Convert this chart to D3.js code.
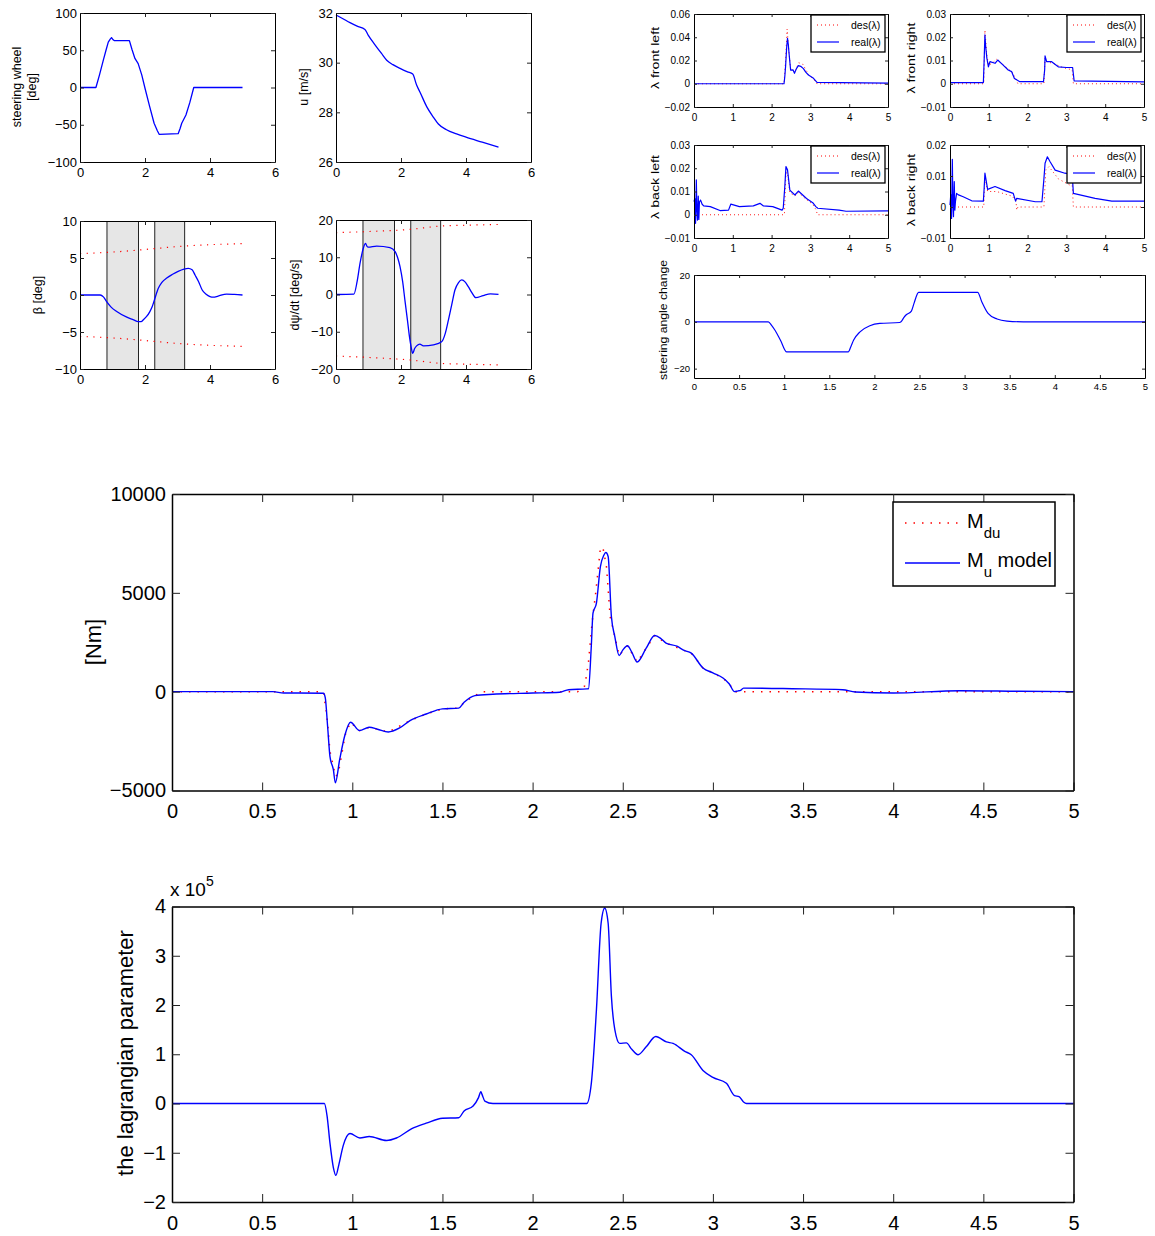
<!DOCTYPE html>
<html>
<head>
<meta charset="utf-8">
<script src="https://cdn.jsdelivr.net/npm/d3@7/dist/d3.min.js"></script>
<style>
  body { margin: 0; background: #fff; }
</style>
</head>
<body>
<div id="chart"></div>
<script>
// ---- data ----

// steering wheel [deg]
const swT = [0, 0.49, 0.6, 0.72, 0.8, 0.87, 0.93, 0.97, 1.02, 1.05, 1.52, 1.6, 1.69, 1.79, 1.9, 2.0, 2.14, 2.28, 2.38, 2.44, 3.02, 3.08, 3.13, 3.26, 3.38, 3.5, 5.0];
const swV = [0, 0, 17, 37, 50, 61, 65, 67, 64, 63, 63, 51, 39, 32, 17, -1, -25, -48, -58, -63, -62, -55, -48, -37, -20, 0, 0];

// u [m/s]
const uT = [0, 0.2, 0.43, 0.65, 0.89, 0.99, 1.2, 1.4, 1.56, 1.75, 1.97, 2.2, 2.36, 2.48, 2.6, 2.79, 3.0, 3.15, 3.4, 3.71, 4.0, 4.5, 5.0];
const uV = [31.92, 31.78, 31.61, 31.47, 31.34, 31.11, 30.72, 30.37, 30.1, 29.92, 29.77, 29.63, 29.54, 29.1, 28.77, 28.23, 27.8, 27.53, 27.3, 27.13, 27.0, 26.8, 26.6];

// beta [deg]
const betaT = [0, 0.62, 0.72, 0.82, 0.95, 1.13, 1.44, 1.65, 1.79, 1.88, 1.95, 2.05, 2.15, 2.22, 2.29, 2.41, 2.52, 2.67, 2.85, 3.02, 3.2, 3.33, 3.45, 3.54, 3.65, 3.76, 3.88, 4.0, 4.1, 4.25, 4.51, 4.75, 5.0];
const betaV = [0, 0, -0.25, -0.9, -1.6, -2.24, -3.0, -3.35, -3.6, -3.6, -3.35, -2.9, -2.24, -1.6, -0.67, 0.9, 1.7, 2.3, 2.8, 3.2, 3.5, 3.6, 3.4, 2.7, 1.8, 0.67, 0.1, -0.22, -0.3, -0.15, 0.13, 0.08, 0];
const betaBoundT = [0, 1, 2, 2.3, 3, 4, 5];
const betaUpper = [5.6, 5.8, 6.15, 6.27, 6.55, 6.8, 6.94];
const betaLower = [-5.6, -5.8, -6.15, -6.27, -6.55, -6.8, -6.94];

// yaw rate [deg/s]
const yawT = [0, 0.55, 0.65, 0.74, 0.84, 0.91, 0.95, 0.99, 1.25, 1.66, 1.82, 1.9, 1.97, 2.05, 2.12, 2.2, 2.26, 2.31, 2.36, 2.42, 2.48, 2.58, 2.69, 3.0, 3.25, 3.36, 3.46, 3.56, 3.66, 3.77, 3.87, 3.97, 4.07, 4.18, 4.3, 4.53, 4.75, 5.0];
const yawV = [0, 0.1, 3.5, 8.4, 12.4, 13.7, 13.0, 12.7, 13.0, 12.6, 11.5, 9.8, 7.5, 3.5, -1.5, -7, -11.3, -14, -15.8, -14.5, -13.8, -13.3, -13.8, -13.5, -12.7, -10.5, -6.8, -2.8, 1.2, 3.2, 3.9, 3.4, 2.1, 0.5, -0.86, -0.3, 0.15, 0.05];
const yawBoundT = [0, 1, 2.3, 3.25, 4, 5];
const yawUpper = [16.6, 16.9, 17.5, 18.4, 18.6, 18.8];
const yawLower = [-16.5, -16.9, -17.6, -18.5, -18.7, -18.9];

// active-control intervals (shaded)
const bandStart = [0.83, 2.3];
const bandEnd = [1.8, 3.22];

// lambda front left
const flT = [0, 2.32, 2.34, 2.36, 2.39, 2.41, 2.43, 2.45, 2.49, 2.55, 2.59, 2.64, 2.69, 2.75, 2.82, 2.88, 2.95, 3.08, 3.17, 5.0];
const flV = [0, 0, 0.006, 0.0147, 0.032, 0.039, 0.034, 0.026, 0.0118, 0.012, 0.009, 0.013, 0.0156, 0.015, 0.013, 0.01, 0.0075, 0.0047, 0.0012, 0.0005];
const flDesT = [0, 2.32, 2.36, 2.4, 2.44, 2.49, 2.55, 2.6, 2.7, 2.8, 2.95, 3.08, 3.15, 3.17, 5.0];
const flDesV = [0, 0, 0.02, 0.047, 0.03, 0.013, 0.012, 0.01, 0.018, 0.017, 0.008, 0.004, 0.001, 0, 0];

// lambda front right
const frT = [0, 0.86, 0.88, 0.9, 0.92, 0.95, 0.99, 1.03, 1.16, 1.23, 1.37, 1.5, 1.59, 1.66, 1.8, 2.41, 2.44, 2.45, 2.49, 2.62, 2.79, 3.0, 3.16, 3.2, 5.0];
const frV = [0.0005, 0.0005, 0.01, 0.021, 0.016, 0.011, 0.0073, 0.0095, 0.0088, 0.0102, 0.008, 0.0059, 0.0052, 0.0023, 0.0009, 0.0009, 0.006, 0.012, 0.0095, 0.0095, 0.0073, 0.007, 0.007, 0.0012, 0.0008];
const frDesT = [0, 0.87, 0.9, 0.95, 1.0, 1.1, 1.2, 1.4, 1.6, 1.7, 1.75, 2.42, 2.45, 2.5, 2.7, 2.9, 3.1, 3.15, 3.18, 5.0];
const frDesV = [0, 0, 0.023, 0.012, 0.008, 0.009, 0.0105, 0.0078, 0.005, 0.002, 0, 0, 0.011, 0.0095, 0.0085, 0.007, 0.0062, 0.006, 0, 0];

// lambda back left
const blT = [0, 0.02, 0.04, 0.06, 0.075, 0.09, 0.11, 0.125, 0.14, 0.17, 0.21, 0.25, 0.42, 0.67, 0.89, 0.95, 1.17, 1.53, 1.7, 1.79, 2.03, 2.27, 2.3, 2.34, 2.37, 2.41, 2.47, 2.6, 2.69, 2.9, 3.06, 3.14, 3.19, 3.74, 3.92, 5.0];
const blV = [0.0056, 0.007, -0.0037, 0.015, 0.002, -0.0023, 0.008, -0.002, 0.0055, 0.0063, 0.0045, 0.0038, 0.0035, 0.0018, 0.002, 0.0046, 0.0035, 0.0038, 0.0049, 0.0038, 0.0035, 0.002, 0.0028, 0.012, 0.0207, 0.0193, 0.0106, 0.0085, 0.0102, 0.007, 0.0052, 0.0035, 0.0028, 0.002, 0.0015, 0.0017];
const blDesT = [0, 2.33, 2.37, 2.41, 2.47, 2.6, 2.69, 2.9, 3.06, 3.15, 3.18, 5.0];
const blDesV = [0, 0, 0.018, 0.018, 0.0095, 0.008, 0.0095, 0.0065, 0.0045, 0.002, 0, 0];

// lambda back right
const brT = [0, 0.02, 0.04, 0.06, 0.075, 0.09, 0.11, 0.125, 0.14, 0.17, 0.22, 0.34, 0.56, 0.86, 0.88, 0.9, 0.97, 1.16, 1.42, 1.63, 1.69, 1.72, 2.2, 2.37, 2.42, 2.45, 2.51, 2.58, 2.71, 2.96, 3.15, 3.18, 3.74, 4.17, 5.0];
const brV = [0.0006, 0.004, -0.0037, 0.0154, 0.001, -0.0031, 0.0082, -0.001, 0.0017, 0.0044, 0.0039, 0.0033, 0.002, 0.0019, 0.006, 0.0109, 0.0057, 0.0066, 0.0053, 0.0044, 0.0019, 0.0028, 0.0017, 0.0017, 0.009, 0.0141, 0.0162, 0.0146, 0.0119, 0.0109, 0.0105, 0.0044, 0.0028, 0.0019, 0.0019];
const brDesT = [0, 0.87, 0.9, 0.97, 1.2, 1.6, 1.7, 1.72, 1.75, 2.42, 2.47, 2.55, 2.8, 3.1, 3.15, 3.18, 5.0];
const brDesV = [0, 0, 0.0095, 0.005, 0.005, 0.0035, 0.002, -0.001, 0, 0, 0.012, 0.013, 0.009, 0.007, 0.007, 0, 0];

// steering angle change
const sacT = [0, 0.824, 0.86, 0.898, 0.96, 1.028, 1.71, 1.74, 1.77, 1.84, 1.95, 2.06, 2.28, 2.295, 2.33, 2.35, 2.41, 2.44, 2.49, 3.145, 3.19, 3.26, 3.36, 3.47, 3.65, 5.0];
const sacV = [0, 0, -1.5, -3.6, -8, -12.85, -12.85, -10.5, -7.8, -4.3, -1.7, -0.7, -0.3, 0, 2, 2.9, 4.6, 8, 12.6, 12.6, 8.6, 3.6, 1.2, 0.3, 0, 0];

// yaw moment [Nm]: model and desired
const muT = [0, 0.3, 0.56, 0.62, 0.7, 0.84, 0.85, 0.863, 0.876, 0.895, 0.906, 0.93, 0.96, 0.99, 1.04, 1.094, 1.14, 1.2, 1.26, 1.32, 1.41, 1.5, 1.59, 1.62, 1.68, 1.78, 2.0, 2.15, 2.2, 2.3, 2.31, 2.325, 2.335, 2.354, 2.376, 2.395, 2.406, 2.419, 2.437, 2.456, 2.48, 2.5, 2.526, 2.55, 2.58, 2.63, 2.677, 2.71, 2.74, 2.8, 2.84, 2.88, 2.945, 3.0, 3.056, 3.09, 3.12, 3.14, 3.15, 3.17, 3.44, 3.72, 3.79, 4.0, 4.37, 4.7, 5.0];
const muV = [0, 0, 0, -70, -70, -80, -300, -1750, -3270, -3950, -4610, -3430, -2170, -1550, -1970, -1800, -1900, -2040, -1850, -1460, -1130, -870, -830, -540, -200, -130, -70, -30, 100, 140, 150, 2200, 3970, 4480, 6330, 6900, 7040, 6840, 3800, 2790, 1830, 2100, 2320, 2000, 1500, 2200, 2840, 2700, 2460, 2300, 2090, 1950, 1200, 950, 690, 400, 0, 40, 50, 180, 150, 100, -20, -70, 50, 20, 0];
const mdT = [0, 0.84, 0.85, 0.86, 0.876, 0.9, 0.91, 0.926, 0.945, 0.96, 0.99, 1.04, 1.094, 1.2, 1.32, 1.41, 1.5, 1.59, 1.62, 1.68, 1.72, 2.25, 2.29, 2.31, 2.33, 2.35, 2.376, 2.39, 2.41, 2.43, 2.456, 2.48, 2.526, 2.58, 2.677, 2.74, 2.84, 2.88, 2.945, 3.056, 3.09, 3.12, 3.15, 5.0];
const mdV = [0, 0, -650, -1300, -3000, -4000, -4300, -3940, -3000, -2200, -1550, -1970, -1800, -2040, -1460, -1130, -870, -830, -540, -200, 0, 0, 300, 1500, 3500, 5000, 7260, 7300, 6300, 3800, 2790, 1830, 2320, 1500, 2840, 2460, 2090, 1950, 1200, 690, 400, 0, 0, 0];

// lagrangian parameter (x 1e5)
const lgT = [0, 0.845, 0.86, 0.876, 0.895, 0.909, 0.925, 0.95, 0.987, 1.042, 1.094, 1.19, 1.245, 1.33, 1.41, 1.5, 1.59, 1.62, 1.67, 1.7, 1.713, 1.72, 1.735, 1.78, 2.3, 2.326, 2.354, 2.38, 2.40, 2.419, 2.437, 2.456, 2.483, 2.52, 2.55, 2.585, 2.63, 2.683, 2.742, 2.779, 2.844, 2.88, 2.945, 3.0, 3.075, 3.12, 3.145, 3.17, 3.186, 5.0];
const lgV = [0, 0, -0.25, -0.8, -1.3, -1.46, -1.25, -0.85, -0.61, -0.70, -0.67, -0.75, -0.70, -0.51, -0.40, -0.30, -0.29, -0.15, -0.05, 0.12, 0.24, 0.18, 0.05, 0, 0, 0.42, 1.9, 3.66, 3.97, 3.66, 2.18, 1.5, 1.22, 1.23, 1.1, 0.99, 1.15, 1.36, 1.25, 1.22, 1.06, 0.99, 0.67, 0.53, 0.41, 0.16, 0.14, 0.03, 0, 0];

// ticks
const ticks6 = [0, 2, 4, 6];
const ticks5 = [0, 1, 2, 3, 4, 5];
const ticksHalf = [0, 0.5, 1, 1.5, 2, 2.5, 3, 3.5, 4, 4.5, 5];

// ---- drawing ----
const FONT = '"Liberation Sans", Arial, Helvetica, sans-serif';
const BLUE = "#0000ff", RED = "#ff0000";

const svg = d3.select("#chart").append("svg")
  .attr("width", 1155).attr("height", 1236)
  .style("font-family", FONT);

const fmt = d => String(d).replace("-", "\u2212");

function panel(o) {
  const x = d3.scaleLinear().domain(o.xd).range([o.l, o.r]);
  const y = d3.scaleLinear().domain(o.yd).range([o.b, o.t]);
  const g = svg.append("g");
  const under = g.append("g");
  const data = g.append("g");
  const ax = g.append("g");

  ax.append("g").attr("transform", `translate(0,${o.b})`)
    .call(d3.axisBottom(x).tickValues(o.xt).tickSizeInner(-o.tl).tickSizeOuter(0).tickPadding(o.xpad).tickFormat(fmt));
  ax.append("g").attr("transform", `translate(0,${o.t})`)
    .call(d3.axisTop(x).tickValues(o.xt).tickSizeInner(-o.tl).tickSizeOuter(0).tickFormat(""));
  ax.append("g").attr("transform", `translate(${o.l},0)`)
    .call(d3.axisLeft(y).tickValues(o.yt).tickSizeInner(-o.tl).tickSizeOuter(0).tickPadding(o.ypad).tickFormat(fmt));
  ax.append("g").attr("transform", `translate(${o.r},0)`)
    .call(d3.axisRight(y).tickValues(o.yt).tickSizeInner(-o.tl).tickSizeOuter(0).tickFormat(""));

  ax.selectAll("g").attr("font-family", FONT);
  ax.selectAll("text").attr("font-size", o.fs).attr("fill", "#000");
  ax.selectAll("path.domain").attr("stroke", "#000").attr("stroke-width", o.sw);
  ax.selectAll(".tick line").attr("stroke", "#222").attr("stroke-width", 1);
  return { g: data, under, x, y, o };
}

function line(p, T, V, color, w, dash, curve) {
  const pts = T.map((t, i) => [t, V[i]]);
  p.g.append("path").datum(pts)
    .attr("fill", "none")
    .attr("stroke", color)
    .attr("stroke-width", w)
    .attr("stroke-dasharray", dash || null)
    .attr("stroke-linejoin", "round")
    .attr("d", d3.line().x(d => p.x(d[0])).y(d => p.y(d[1])).curve(curve || d3.curveLinear));
}

function bands(p) {
  bandStart.forEach((s, i) => {
    const x0 = p.x(s), x1 = p.x(bandEnd[i]);
    p.under.append("rect").attr("x", x0).attr("y", p.o.t).attr("width", x1 - x0).attr("height", p.o.b - p.o.t)
      .attr("fill", "#e6e6e6");
    [x0, x1].forEach(xx => p.under.append("line")
      .attr("x1", xx).attr("x2", xx).attr("y1", p.o.t).attr("y2", p.o.b)
      .attr("stroke", "#222").attr("stroke-width", 1));
  });
}

function ylabel(x, y, txt, fs, stretch) {
  return svg.append("text")
    .attr("transform", `translate(${x},${y}) rotate(-90) scale(${stretch || 1},1)`)
    .attr("text-anchor", "middle").attr("dy", "0.35em")
    .attr("font-size", fs).attr("fill", "#000").text(txt);
}

function smallLegend(p) {
  const bx = p.o.r - 77, by = p.o.t + 1;
  const lg = svg.append("g");
  lg.append("rect").attr("x", bx).attr("y", by).attr("width", 74).attr("height", 37)
    .attr("fill", "#fff").attr("stroke", "#000").attr("stroke-width", 1.3);
  lg.append("line").attr("x1", bx + 6).attr("x2", bx + 28).attr("y1", by + 10).attr("y2", by + 10)
    .attr("stroke", RED).attr("stroke-width", 1).attr("stroke-dasharray", "1,3");
  lg.append("line").attr("x1", bx + 6).attr("x2", bx + 28).attr("y1", by + 27).attr("y2", by + 27)
    .attr("stroke", BLUE).attr("stroke-width", 1.2);
  lg.append("text").attr("x", bx + 40).attr("y", by + 10).attr("dy", "0.35em")
    .attr("font-size", 10.5).text("des(\u03bb)");
  lg.append("text").attr("x", bx + 40).attr("y", by + 27).attr("dy", "0.35em")
    .attr("font-size", 10.5).text("real(\u03bb)");
}

// top-left block
const pSw = panel({ l: 80, r: 275, t: 13, b: 162, xd: [0, 6], yd: [-100, 100], xt: ticks6, yt: [-100, -50, 0, 50, 100], fs: 13, tl: 4, xpad: 6, ypad: 3, sw: 1 });
line(pSw, swT, swV, BLUE, 1.3);
svg.append("text").attr("transform", "translate(17,87) rotate(-90)").attr("text-anchor", "middle").attr("dy", "0.35em").attr("font-size", 12.5).text("steering wheel");
svg.append("text").attr("transform", "translate(32,87) rotate(-90)").attr("text-anchor", "middle").attr("dy", "0.35em").attr("font-size", 12.5).text("[deg]");

const pU = panel({ l: 336, r: 531, t: 13, b: 162, xd: [0, 6], yd: [26, 32], xt: ticks6, yt: [26, 28, 30, 32], fs: 13, tl: 4, xpad: 6, ypad: 3, sw: 1 });
line(pU, uT, uV, BLUE, 1.3, null, d3.curveMonotoneX);
ylabel(304, 87, "u [m/s]", 12.5);

const pBeta = panel({ l: 80, r: 275, t: 221, b: 369, xd: [0, 6], yd: [-10, 10], xt: ticks6, yt: [-10, -5, 0, 5, 10], fs: 13, tl: 4, xpad: 6, ypad: 3, sw: 1 });
bands(pBeta);
line(pBeta, betaT, betaV, BLUE, 1.3, null, d3.curveMonotoneX);
line(pBeta, betaBoundT, betaUpper, RED, 1.2, "1.2,5.5", d3.curveMonotoneX);
line(pBeta, betaBoundT, betaLower, RED, 1.2, "1.2,5.5", d3.curveMonotoneX);
ylabel(38, 295, "\u03b2 [deg]", 12.5);

const pYaw = panel({ l: 336, r: 531, t: 220, b: 369, xd: [0, 6], yd: [-20, 20], xt: ticks6, yt: [-20, -10, 0, 10, 20], fs: 13, tl: 4, xpad: 6, ypad: 3, sw: 1 });
bands(pYaw);
line(pYaw, yawT, yawV, BLUE, 1.3, null, d3.curveMonotoneX);
line(pYaw, yawBoundT, yawUpper, RED, 1.2, "1.2,5.5", d3.curveMonotoneX);
line(pYaw, yawBoundT, yawLower, RED, 1.2, "1.2,5.5", d3.curveMonotoneX);
ylabel(295, 295, "d\u03c8/dt [deg/s]", 12.5);

// top-right block: slip ratios
const lamOpts = { xd: [0, 5], xt: ticks5, fs: 10, tl: 3, xpad: 7, ypad: 4, sw: 1 };
const pFl = panel(Object.assign({ l: 694, r: 888, t: 14, b: 107, yd: [-0.02, 0.06], yt: [-0.02, 0, 0.02, 0.04, 0.06] }, lamOpts));
line(pFl, flDesT, flDesV, RED, 0.9, "1,3");
line(pFl, flT, flV, BLUE, 1.2);
smallLegend(pFl);
ylabel(655, 58, "\u03bb front left", 10.5, 1.35);

const pFr = panel(Object.assign({ l: 950, r: 1144, t: 14, b: 107, yd: [-0.01, 0.03], yt: [-0.01, 0, 0.01, 0.02, 0.03] }, lamOpts));
line(pFr, frDesT, frDesV, RED, 0.9, "1,3");
line(pFr, frT, frV, BLUE, 1.2);
smallLegend(pFr);
ylabel(911, 58, "\u03bb front right", 10.5, 1.35);

const pBl = panel(Object.assign({ l: 694, r: 888, t: 145, b: 238, yd: [-0.01, 0.03], yt: [-0.01, 0, 0.01, 0.02, 0.03] }, lamOpts));
line(pBl, blDesT, blDesV, RED, 0.9, "1,3");
line(pBl, blT, blV, BLUE, 1.2);
smallLegend(pBl);
ylabel(655, 187, "\u03bb back left", 10.5, 1.35);

const pBr = panel(Object.assign({ l: 950, r: 1144, t: 145, b: 238, yd: [-0.01, 0.02], yt: [-0.01, 0, 0.01, 0.02] }, lamOpts));
line(pBr, brDesT, brDesV, RED, 0.9, "1,3");
line(pBr, brT, brV, BLUE, 1.2);
smallLegend(pBr);
ylabel(911, 190, "\u03bb back right", 10.5, 1.35);

const pSac = panel({ l: 694, r: 1145, t: 275, b: 378, xd: [0, 5], yd: [-24, 20], xt: ticksHalf, yt: [-20, 0, 20], fs: 9.5, tl: 3, xpad: 5.5, ypad: 4, sw: 1 });
line(pSac, sacT, sacV, BLUE, 1.2, null, d3.curveMonotoneX);
ylabel(663, 320, "steering angle change", 10, 1.22);

// middle: yaw moment
const pM = panel({ l: 172, r: 1073.5, t: 494, b: 790.5, xd: [0, 5], yd: [-5000, 10000], xt: ticksHalf, yt: [-5000, 0, 5000, 10000], fs: 20, tl: 8, xpad: 13, ypad: 6, sw: 1.5 });
line(pM, mdT, mdV, RED, 1.5, "1.5,7");
line(pM, muT, muV, BLUE, 1.4, null, d3.curveMonotoneX);
ylabel(93, 642, "[Nm]", 22);

const leg = svg.append("g");
leg.append("rect").attr("x", 893).attr("y", 502).attr("width", 162).attr("height", 84)
  .attr("fill", "#fff").attr("stroke", "#000").attr("stroke-width", 1.5);
leg.append("line").attr("x1", 905).attr("x2", 958).attr("y1", 523).attr("y2", 523)
  .attr("stroke", RED).attr("stroke-width", 1.5).attr("stroke-dasharray", "1.5,7");
leg.append("line").attr("x1", 905).attr("x2", 960).attr("y1", 563).attr("y2", 563)
  .attr("stroke", BLUE).attr("stroke-width", 1.4);
const t1 = leg.append("text").attr("x", 967).attr("y", 528).attr("font-size", 20);
t1.append("tspan").text("M");
t1.append("tspan").attr("dy", 10).attr("font-size", 15).text("du");
const t2 = leg.append("text").attr("x", 967).attr("y", 567).attr("font-size", 20);
t2.append("tspan").text("M");
t2.append("tspan").attr("dy", 10).attr("font-size", 15).text("u");
t2.append("tspan").attr("dy", -10).text(" model");

// bottom: lagrangian parameter
const pL = panel({ l: 172, r: 1073.5, t: 906.5, b: 1202, xd: [0, 5], yd: [-2, 4], xt: ticksHalf, yt: [-2, -1, 0, 1, 2, 3, 4], fs: 20, tl: 8, xpad: 14, ypad: 6, sw: 1.5 });
line(pL, lgT, lgV, BLUE, 1.4, null, d3.curveMonotoneX);
ylabel(125, 1053, "the lagrangian parameter", 22);
const ex = svg.append("text").attr("x", 170).attr("y", 896).attr("font-size", 19);
ex.append("tspan").text("x 10");
ex.append("tspan").attr("dy", -10).attr("font-size", 14).text("5");
</script>
</body>
</html>
